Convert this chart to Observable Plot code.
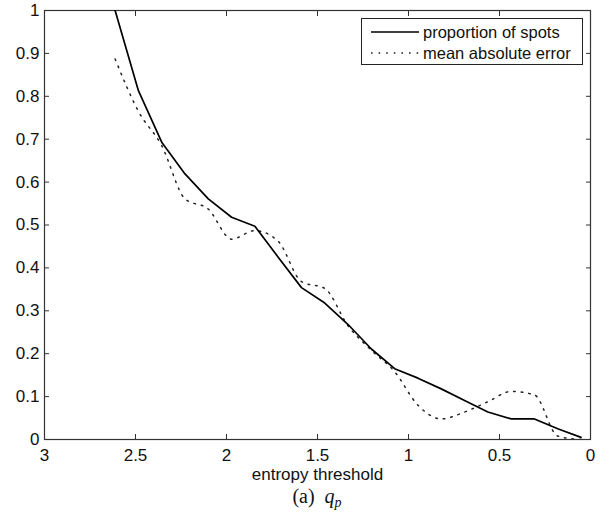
<!DOCTYPE html>
<html>
<head>
<meta charset="utf-8">
<script src="https://cdn.jsdelivr.net/npm/d3@7"></script>
<script src="https://cdn.jsdelivr.net/npm/@observablehq/plot@0.6"></script>
<style>
  html, body { margin: 0; padding: 0; background: #fff; }
  #wrap { position: relative; width: 605px; height: 514px; overflow: hidden; }
  #legend { position: absolute; left: 361px; top: 18px; width: 220px; height: 45px; border: 1px solid #222; background: #fff;
            font-family: "Liberation Sans", Arial, Helvetica, sans-serif; font-size: 16.5px; color: #111; }
  #legend .row { position: absolute; left: 0; height: 20px; display: flex; align-items: center; white-space: nowrap; }
  #legend svg { display: block; }
  #caption { position: absolute; left: 44px; width: 546px; top: 486px; height: 22px; text-align: center;
             font-family: "Liberation Serif", "Times New Roman", serif; font-size: 20px; line-height: 20px; color: #111; }
  #caption i { font-style: italic; }
  #caption sub { font-size: 14px; font-style: italic; vertical-align: -4px; line-height: 0; }
</style>
</head>
<body>
<div id="wrap">
  <div id="chart"></div>
  <div id="legend"></div>
  <div id="caption">(a)&nbsp; <i>q</i><sub>p</sub></div>
</div>
<script>
// ---- data ----
const thresholds = [2.612, 2.484, 2.356, 2.228, 2.100, 1.972, 1.844, 1.716, 1.588, 1.460, 1.332,
                    1.204, 1.076, 0.948, 0.820, 0.692, 0.564, 0.436, 0.308, 0.180, 0.052];
const proportionOfSpots = [1.000, 0.813, 0.693, 0.619, 0.561, 0.518, 0.497, 0.425, 0.354, 0.318, 0.268,
                           0.211, 0.165, 0.143, 0.118, 0.091, 0.064, 0.048, 0.048, 0.025, 0.005];
const meanAbsoluteError = [0.887, 0.765, 0.685, 0.561, 0.537, 0.467, 0.487, 0.462, 0.368, 0.352, 0.265,
                           0.208, 0.158, 0.080, 0.048, 0.064, 0.088, 0.112, 0.104, 0.008, 0.000];
const seriesNames = ["proportion of spots", "mean absolute error"];
const xTicks = [0, 0.5, 1, 1.5, 2, 2.5, 3];
const xTickLabels = ["0", "0.5", "1", "1.5", "2", "2.5", "3"];
const yTicks = [0, 0.1, 0.2, 0.3, 0.4, 0.5, 0.6, 0.7, 0.8, 0.9, 1];
const yTickLabels = ["0", "0.1", "0.2", "0.3", "0.4", "0.5", "0.6", "0.7", "0.8", "0.9", "1"];
const xLabel = "entropy threshold";

const spots = thresholds.map((t, i) => ({t, v: proportionOfSpots[i]}));
const mae = thresholds.map((t, i) => ({t, v: meanAbsoluteError[i]}));

const fontFamily = '"Liberation Sans", Arial, Helvetica, sans-serif';
const axisColor = "#333";
const dotted = "1.6,6";
const xFmt = d => xTickLabels[xTicks.indexOf(d)];
const yFmt = d => yTickLabels[yTicks.findIndex(t => Math.abs(t - d) < 1e-9)];

const chart = Plot.plot({
  width: 605,
  height: 484,
  marginTop: 10,
  marginLeft: 44,
  marginRight: 15,
  marginBottom: 45,
  style: {fontFamily, fontSize: "17px", color: "#111", background: "#fff"},
  x: {domain: [3, 0]},
  y: {domain: [0, 1]},
  marks: [
    // inward ticks on all four sides
    Plot.axisX(xTicks, {anchor: "bottom", tickSize: -5, tickFormat: () => "", label: null, stroke: axisColor}),
    Plot.axisX(xTicks, {anchor: "top", tickSize: -5, tickFormat: () => "", label: null, stroke: axisColor}),
    Plot.axisY(yTicks, {anchor: "left", tickSize: -5, tickFormat: () => "", label: null, stroke: axisColor}),
    Plot.axisY(yTicks, {anchor: "right", tickSize: -5, tickFormat: () => "", label: null, stroke: axisColor}),
    // tick labels
    Plot.axisX(xTicks, {anchor: "bottom", tickSize: 0, tickPadding: 9, tickFormat: xFmt, fontSize: 17,
                        label: xLabel, labelAnchor: "center", labelArrow: "none", labelOffset: 40}),
    Plot.axisY(yTicks, {anchor: "left", tickSize: 0, tickPadding: 5, tickFormat: yFmt, fontSize: 17, label: null}),
    Plot.frame({stroke: axisColor, strokeWidth: 1.2}),
    Plot.line(mae, {x: "t", y: "v", stroke: "#222", strokeWidth: 1.5, strokeDasharray: dotted,
                    curve: "monotone-x", clip: true}),
    Plot.line(spots, {x: "t", y: "v", stroke: "#000", strokeWidth: 1.7, clip: true})
  ]
});
document.getElementById("chart").appendChild(chart);

// legend (HTML overlay)
const legend = document.getElementById("legend");
const dashes = [null, dotted];
const rowTops = [3, 24];
seriesNames.forEach((name, i) => {
  const row = document.createElement("div");
  row.className = "row";
  row.style.top = rowTops[i] + "px";
  const ns = "http://www.w3.org/2000/svg";
  const svg = document.createElementNS(ns, "svg");
  svg.setAttribute("width", "61");
  svg.setAttribute("height", "20");
  const ln = document.createElementNS(ns, "line");
  ln.setAttribute("x1", "9"); ln.setAttribute("x2", "57");
  ln.setAttribute("y1", "10"); ln.setAttribute("y2", "10");
  ln.setAttribute("stroke", i === 0 ? "#000" : "#222");
  ln.setAttribute("stroke-width", i === 0 ? "1.7" : "1.5");
  if (dashes[i]) ln.setAttribute("stroke-dasharray", dashes[i]);
  svg.appendChild(ln);
  const span = document.createElement("span");
  span.textContent = name;
  row.appendChild(svg);
  row.appendChild(span);
  legend.appendChild(row);
});
</script>
</body>
</html>
